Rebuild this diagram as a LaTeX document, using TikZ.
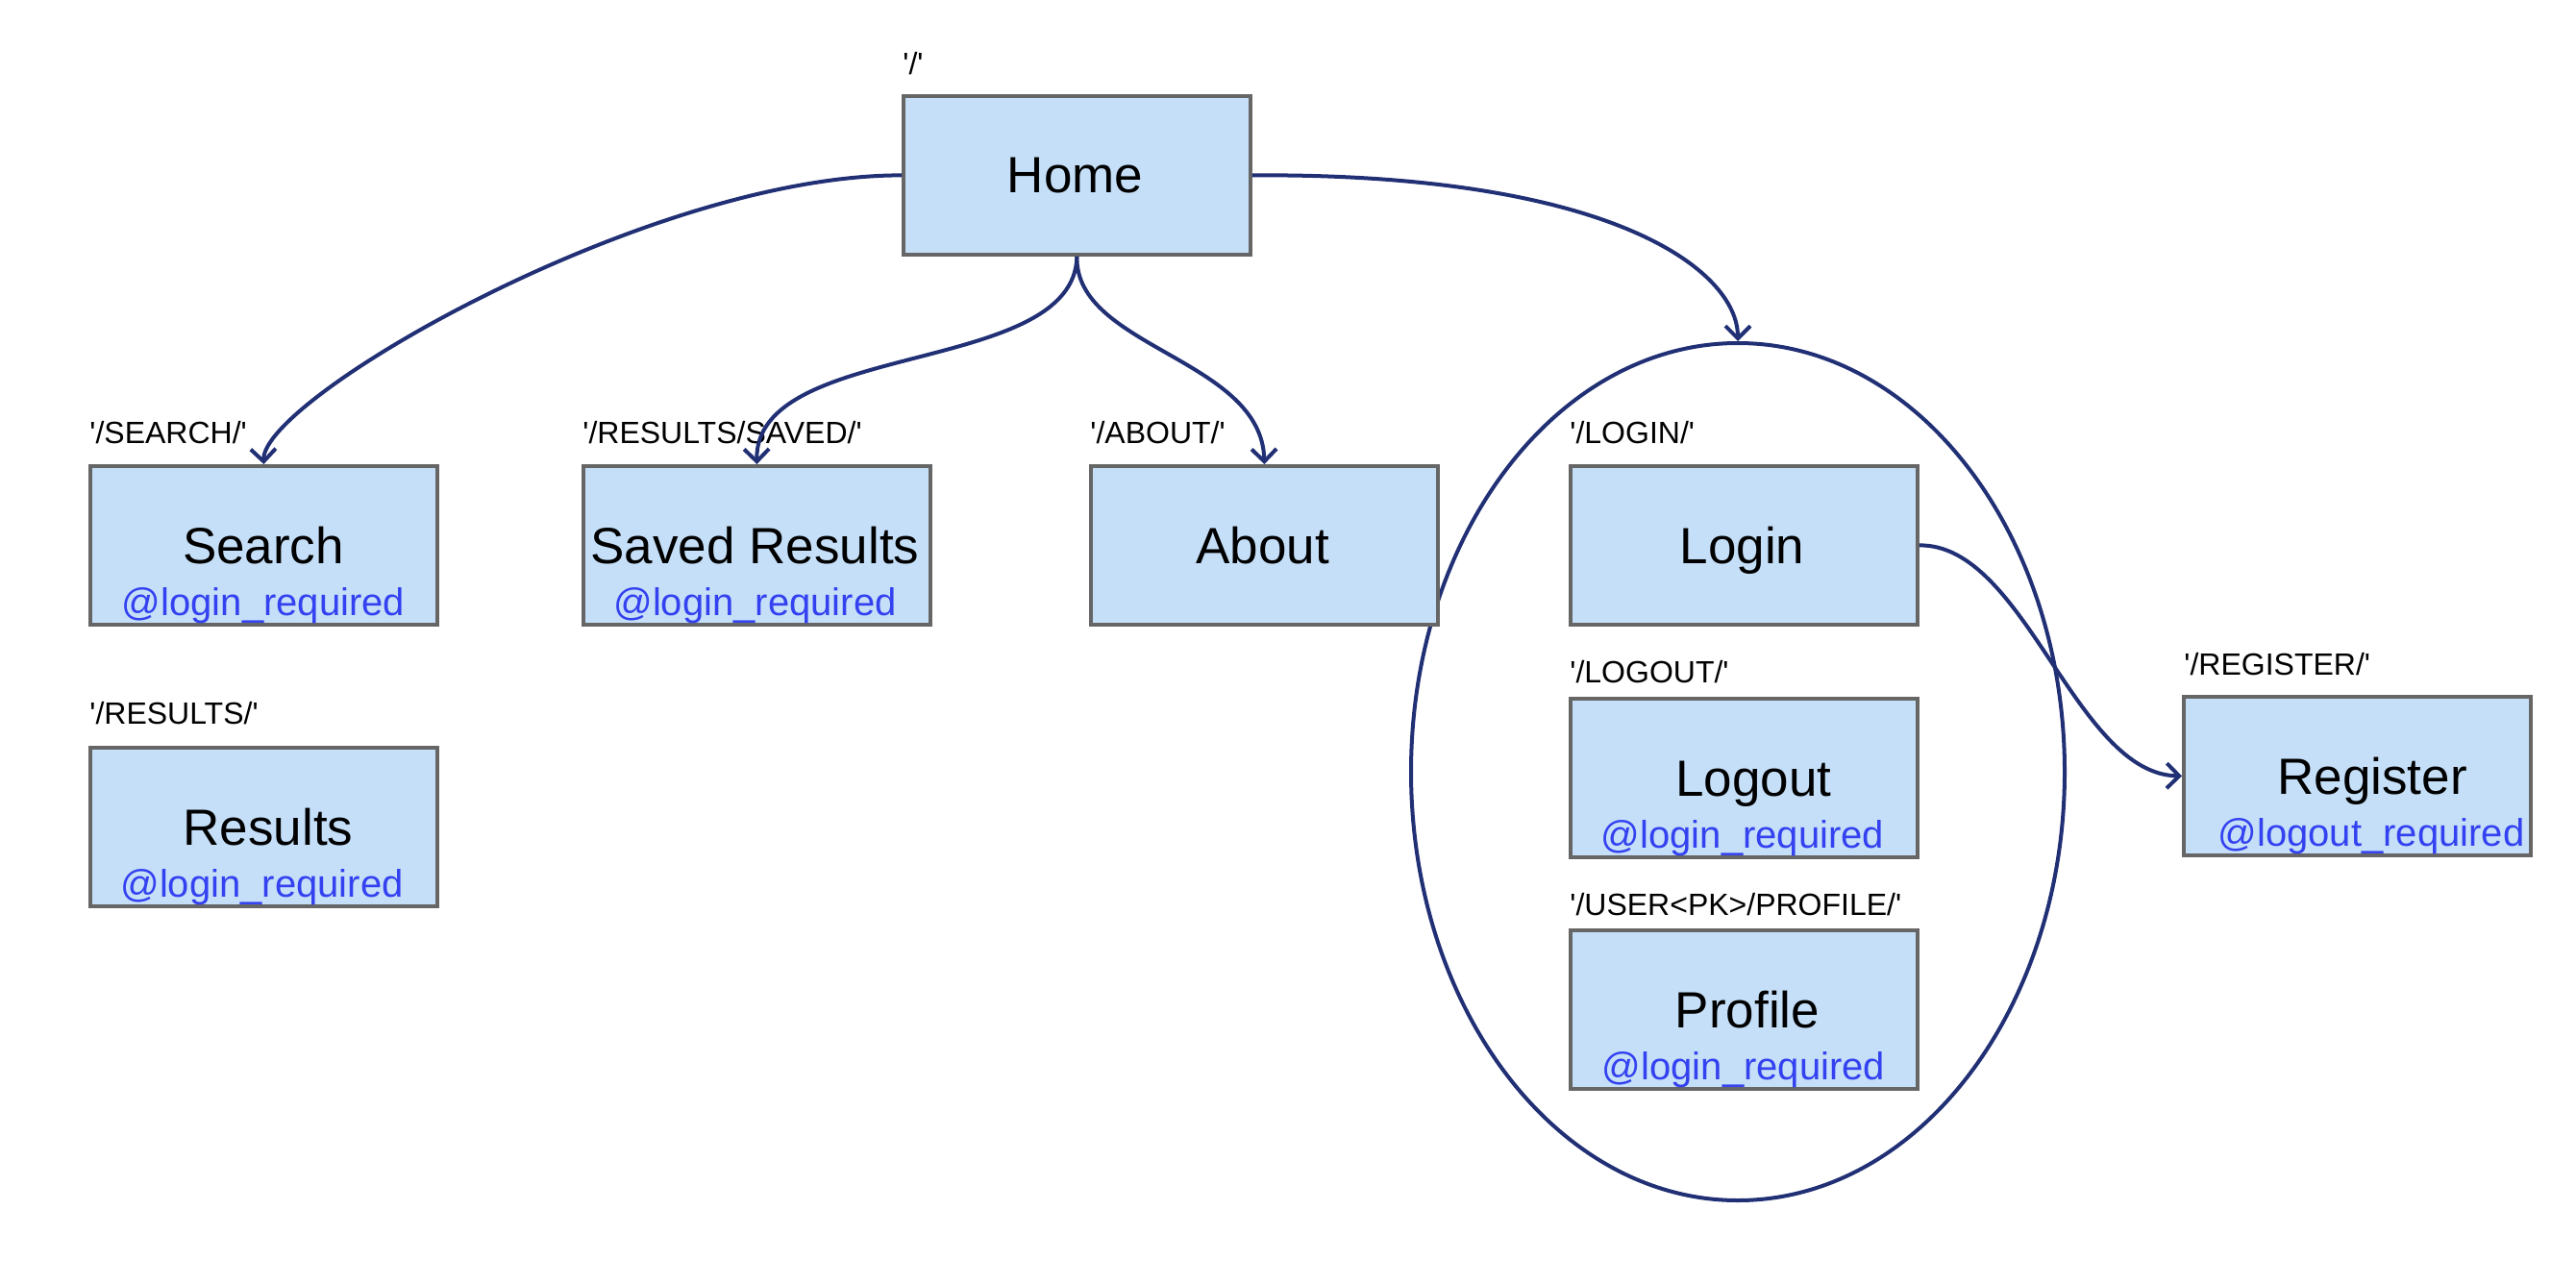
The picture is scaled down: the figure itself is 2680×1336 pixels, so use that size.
\documentclass[tikz,border=0pt]{standalone}
\usepackage{fontspec}
\setmainfont{Liberation Sans}
\usetikzlibrary{arrows.meta,shapes.geometric}
\definecolor{boxfill}{RGB}{197,223,248}
\definecolor{boxline}{RGB}{102,102,102}
\definecolor{conn}{RGB}{33,48,117}
\definecolor{deco}{RGB}{51,65,240}
\newcommand{\q}{\textquotesingle}
\begin{document}
\begin{tikzpicture}[x=0.5pt,y=-0.5pt,
  page/.style={draw=boxline, line width=1.9pt, fill=boxfill, minimum width=180.5pt, minimum height=82.5pt, inner sep=0pt, anchor=north west},
  title/.style={font=\fontsize{26.5}{30}\selectfont, anchor=base, inner sep=0pt},
  decor/.style={font=\fontsize{20}{24}\selectfont, text=deco, anchor=base, inner sep=0pt},
  route/.style={font=\fontsize{16}{19}\selectfont, anchor=base west, inner sep=0pt},
  link/.style={draw=conn, line width=2pt, -{Straight Barb[length=6.5pt,width=13pt]}}
]
\useasboundingbox[fill=white] (0,0) rectangle (2680,1336);

% group ellipse
\node[draw=conn, line width=2pt, ellipse, minimum width=340pt, minimum height=446pt, inner sep=0pt] (grp) at (1808,803) {};

% boxes
\node[page] (home) at (938,98) {};
\node[page] (search) at (92,483) {};
\node[page] (saved) at (605,483) {};
\node[page] (about) at (1133,483) {};
\node[page] (results) at (92,776) {};
\node[page] (login) at (1632,483) {};
\node[page] (logout) at (1632,725) {};
\node[page] (profile) at (1632,966) {};
\node[page] (register) at (2270,723) {};

% titles
\node[title] (thome) at (1118.5,201) {Home};
\node[title] (tsearch) at (274,586) {Search};
\node[title] (tsaved) at (785.5,586) {Saved Results};
\node[title] (tabout) at (1313.5,586) {About};
\node[title] (tresults) at (279,879) {Results};
\node[title] (tlogin) at (1812.5,586) {Login};
\node[title] (tlogout) at (1824.5,828) {Logout};
\node[title] (tprofile) at (1818,1069) {Profile};
\node[title] (tregister) at (2468,826) {Register};

% decorators
\node[decor] (dsearch) at (274,640) {@login\_required};
\node[decor] (dsaved) at (785.5,640) {@login\_required};
\node[decor] (dresults) at (272.5,933) {@login\_required};
\node[decor] (dlogout) at (1813,882) {@login\_required};
\node[decor] (dprofile) at (1814,1123) {@login\_required};
\node[decor] (dregister) at (2467,880) {@logout\_required};

% routes
\node[route] (rhome) at (939,78) {\q/\q};
\node[route] (rsearch) at (93,462) {\q/SEARCH/\q};
\node[route] (rsaved) at (606,462) {\q/RESULTS/SAVED/\q};
\node[route] (rabout) at (1134,462) {\q/ABOUT/\q};
\node[route] (rresults) at (93,753) {\q/RESULTS/\q};
\node[route] (rlogin) at (1633,462) {\q/LOGIN/\q};
\node[route] (rlogout) at (1633,710) {\q/LOGOUT/\q};
\node[route] (rprofile) at (1633,952) {\q/USER<PK>/PROFILE/\q};
\node[route] (rregister) at (2272,702) {\q/REGISTER/\q};

% connectors
\draw[link] (home.west) .. controls (675,182) and (272,415) .. (search.north);
\draw[link] (home.south) .. controls (1118,392) and (785,353) .. (saved.north);
\draw[link] (home.south) .. controls (1118,362) and (1313,373) .. (about.north);
\draw[link] (home.east) .. controls (1679,180) and (1808,282) .. (grp.north);
\draw[link] (login.east) .. controls (2107,566) and (2159,806) .. (register.west);
\end{tikzpicture}
\end{document}
